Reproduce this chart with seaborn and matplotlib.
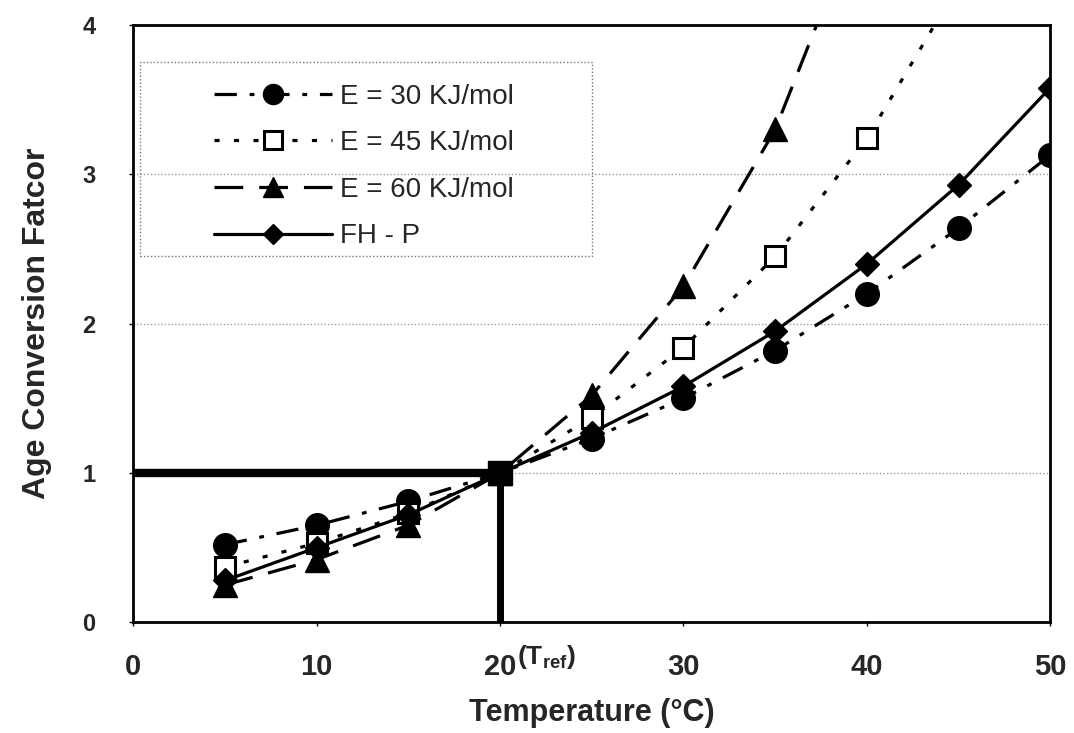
import matplotlib
matplotlib.use("Agg")
import matplotlib.pyplot as plt
from matplotlib.patches import Rectangle
import pandas as pd
import seaborn as sns

# ── data ────────────────────────────────────────────────────
temps = [5, 10, 15, 20, 25, 30, 35, 40, 45, 50]
e30 = [0.52, 0.65, 0.81, 1.00, 1.23, 1.50, 1.82, 2.20, 2.64, 3.13]
e45 = [0.37, 0.53, 0.73, 1.00, 1.37, 1.84, 2.45, 3.24, 4.27]          # last one off-scale
e60 = [0.25, 0.42, 0.65, 1.00, 1.52, 2.25, 3.30, 4.85]                # last one off-scale
fhp = [0.28, 0.50, 0.72, 1.00, 1.27, 1.58, 1.95, 2.40, 2.93, 3.58]

series_labels = ["E = 30 KJ/mol", "E = 45 KJ/mol", "E = 60 KJ/mol", "FH - P"]
x_ticks = [0, 10, 20, 30, 40, 50]
y_ticks = [0, 1, 2, 3, 4]
t_ref = 20
ref_factor = 1.0

sns.set_theme(style="white")
plt.rcParams["font.family"] = ["Liberation Sans", "DejaVu Sans"]
plt.rcParams["font.weight"] = "bold"
plt.rcParams["mathtext.fontset"] = "custom"
plt.rcParams["mathtext.rm"] = "Liberation Sans:bold"
plt.rcParams["mathtext.it"] = "Liberation Sans:bold"
plt.rcParams["mathtext.bf"] = "Liberation Sans:bold"

fig = plt.figure(figsize=(10.74, 7.33), dpi=100)
ax = fig.add_axes([0.124, 0.151, 0.854, 0.815])

styles = [
    dict(marker="o", ms=17, mfc="black", dashes=(7, 4, 1.5, 4)),
    dict(marker="s", ms=15, mfc="white", mew=2.2, dashes=(1.6, 4.5)),
    dict(marker="^", ms=17, mfc="black", dashes=(9, 5)),
    dict(marker="D", ms=12.5, mfc="black", dashes=(None, None)),
]
all_y = [e30, e45, e60, fhp]

# gridlines first so the data sit on top
for yv in y_ticks[1:-1]:
    ax.axhline(yv, color="#9a9a9a", lw=1.0, ls=(0, (1, 1.5)), zorder=1)

for lab, ys, st in zip(series_labels, all_y, styles):
    df = pd.DataFrame({"T": temps[:len(ys)], "f": ys})
    sns.lineplot(data=df, x="T", y="f", ax=ax, color="black", lw=2.3,
                 marker=st["marker"], markersize=st["ms"],
                 markerfacecolor=st["mfc"], markeredgecolor="black",
                 markeredgewidth=st.get("mew", 1.0), label=lab, zorder=3)
    ln = ax.lines[-1]
    if st["dashes"][0] is None:
        ln.set_linestyle("-")
    else:
        ln.set_dashes(st["dashes"])

# reference lines at T_ref
ax.plot([0, t_ref], [ref_factor, ref_factor], color="black", lw=6, solid_capstyle="butt", zorder=4)
ax.plot([t_ref, t_ref], [0, ref_factor], color="black", lw=5, solid_capstyle="butt", zorder=4)
ax.plot([t_ref], [ref_factor], marker="s", ms=17, color="black", zorder=5)

ax.set_xlim(0, 50)
ax.set_ylim(0, 4)
ax.set_xticks(x_ticks)
ax.set_yticks(y_ticks)
ax.set_xticklabels([str(v) for v in x_ticks], fontsize=21, fontweight="bold")
ax.set_yticklabels([str(v) for v in y_ticks], fontsize=17, fontweight="bold")
ax.tick_params(axis="both", which="both", length=3, width=1, color="black",
               direction="out", bottom=True, left=True)
ax.tick_params(axis="x", pad=19)
ax.tick_params(axis="y", pad=24)
ax.annotate(r"(T$_{\mathrm{ref}}$)", xy=(t_ref, 0), xycoords=("data", "axes fraction"),
            xytext=(12, -15), textcoords="offset points", fontsize=19,
            fontweight="bold", ha="left", va="top")

for side in ["left", "bottom", "right", "top"]:
    ax.spines[side].set_visible(True)
    ax.spines[side].set_color("black")
    ax.spines[side].set_linewidth(2)
ax.spines["top"].set_linestyle((0, (2, 1)))

ax.set_xlabel("Temperature (°C)", fontsize=22, fontweight="bold", labelpad=12)
ax.set_ylabel("Age Conversion Fatcor", fontsize=23, fontweight="bold", labelpad=22)

# legend without its own frame; dotted box drawn separately to match the wide left margin
leg = ax.legend(loc="upper left", bbox_to_anchor=(0.073, 0.925), fontsize=20,
                handlelength=4.25, markerscale=0.85, frameon=False,
                borderpad=0.0, labelspacing=0.74, handletextpad=0.3)
for t in leg.get_texts():
    t.set_fontweight("normal")
box = Rectangle((0.0076, 0.613), 0.493, 0.325, transform=ax.transAxes, fill=False,
                edgecolor="#777777", lw=1.0, ls=(0, (1, 1.5)), zorder=2)
ax.add_patch(box)

fig.savefig("out.png", dpi=100, facecolor="white")
